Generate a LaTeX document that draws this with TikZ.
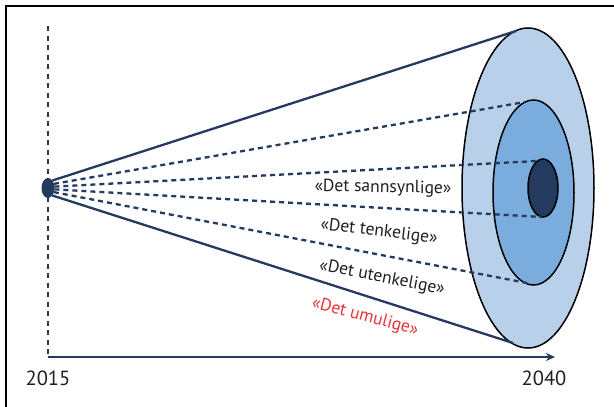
\documentclass[tikz,border=0pt]{standalone}
\usepackage{fontspec}
\setmainfont{PT Sans}
\usetikzlibrary{shapes.geometric,arrows.meta}
\definecolor{navy}{RGB}{36,58,94}
\definecolor{lightblue}{RGB}{185,208,235}
\definecolor{midblue}{RGB}{122,173,221}
\definecolor{redtxt}{RGB}{235,50,55}
\definecolor{txt}{RGB}{35,31,32}
\begin{document}
\begin{tikzpicture}[x=1pt,y=-1pt,
  ring/.style={ellipse,draw=black,line width=1.5pt,inner sep=0pt,outer sep=0pt},
  solidline/.style={navy,line width=2.3pt},
  dashline/.style={navy,line width=2.3pt,dash pattern=on 5pt off 4pt},
  lbl/.style={font=\fontsize{17.6}{20}\selectfont,text=txt,inner sep=0pt},
  year/.style={font=\fontsize{20.5}{24}\selectfont,text=txt,inner sep=0pt}]
\useasboundingbox (0,0) rectangle (614,407);
\fill[white] (0,0) rectangle (614,407);
\draw[line width=2.5pt] (6,412) -- (6,6) -- (620,6);
% axes
\coordinate (vtop) at (48,26);
\coordinate (origin) at (48,357);
\coordinate (xend) at (555,357);
\draw[navy,line width=2pt,dash pattern=on 5pt off 4.5pt] (vtop) -- (origin);
\draw[navy,line width=1.5pt,-{Stealth[length=9pt,width=8pt]}] (origin) -- (xend);
% ellipses
\node[ring,fill=lightblue,minimum width=132pt,minimum height=320pt] (outer) at (528,188) {};
\node[ring,fill=midblue,minimum width=81pt,minimum height=185pt] (middle) at (533.5,192.5) {};
\node[ring,fill=navy,minimum width=30pt,minimum height=58pt] (inner) at (543,188) {};
\node[ellipse,fill=navy,minimum width=13pt,minimum height=20pt,inner sep=0pt,outer sep=0pt] (dot) at (48,188) {};
% endpoints
\coordinate (tO) at (516,31);
\coordinate (bO) at (513,343);
\coordinate (tM) at (525,102);
\coordinate (bM) at (527,283);
\coordinate (tI) at (537,161);
\coordinate (bI) at (542,217);
\draw[solidline] (dot.60) -- (tO);
\draw[solidline] (dot.-60) -- (bO);
\draw[dashline] (dot.35) -- (tM);
\draw[dashline] (dot.-35) -- (bM);
\draw[dashline] (dot.12) -- (tI);
\draw[dashline] (dot.-12) -- (bI);
% labels
\node[lbl,rotate=-1] (l1) at (383,188) {«Det sannsynlige»};
\node[lbl,rotate=-7] (l2) at (379,232) {«Det tenkelige»};
\node[lbl,rotate=-11] (l3) at (382,278) {«Det utenkelige»};
\node[lbl,rotate=-15,text=redtxt] (l4) at (365,317) {«Det umulige»};
\node[year] (y1) at (48,378) {2015};
\node[year] (y2) at (544,378) {2040};
\end{tikzpicture}
\end{document}
